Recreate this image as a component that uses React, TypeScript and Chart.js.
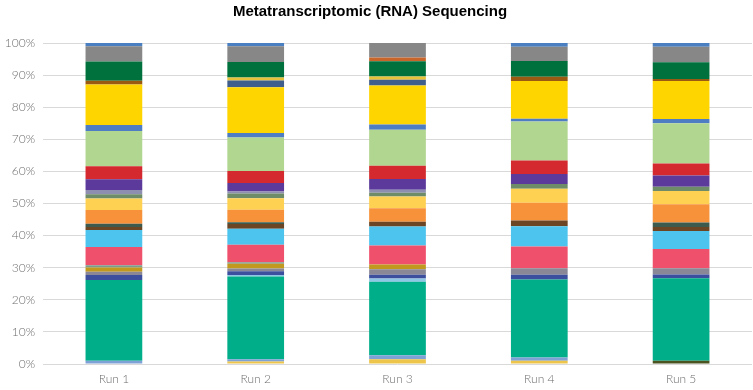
import React, { useEffect, useRef } from "react";
import { Chart, registerables } from "chart.js";

Chart.register(...registerables);

const TITLE = "Metatranscriptomic (RNA) Sequencing";
const categories = ["Run 1", "Run 2", "Run 3", "Run 4", "Run 5"];
const yTicks = [0, 10, 20, 30, 40, 50, 60, 70, 80, 90, 100];

// Segment values (%) per run, bottom to top of the stack
const darkOlive = [0, 0, 0, 0, 1.0];
const bottomYellow = [0, 0.8, 1.5, 1.0, 0];
const bottomBlue = [1.0, 0.7, 1.2, 1.0, 0];
const teal = [25, 25.7, 22.9, 24.2, 25.7];
const paleBlue = [0, 0.5, 1.0, 0, 0];
const darkBlue = [1.6, 1.2, 1.2, 1.5, 1.2];
const grayPurple = [1.0, 0.8, 1.7, 2.0, 1.9];
const goldenrod = [1.3, 1.5, 1.5, 0, 0];
const grayTeal = [0.7, 0.5, 0, 0, 0];
const pink = [5.7, 5.4, 5.9, 6.7, 6.0];
const lightBlue = [5.2, 5.0, 5.9, 6.3, 5.6];
const brown = [1.0, 1.5, 1.5, 1.8, 1.3];
const darkSlate = [1.0, 0.5, 0, 0, 1.4];
const orange = [4.2, 3.9, 4.2, 5.5, 5.7];
const lightYellow = [3.6, 3.6, 3.6, 4.3, 4.1];
const grayGreen = [1.3, 1.5, 1.2, 1.5, 1.3];
const lavender = [1.3, 0.6, 0.9, 0, 0];
const purple = [3.4, 2.6, 3.4, 3.1, 3.5];
const red = [4.0, 3.8, 4.1, 4.2, 3.8];
const lightGreen = [10.9, 10.4, 11.2, 12.1, 12.5];
const blue = [1.9, 1.4, 1.6, 0.8, 1.3];
const yellow = [12.5, 14.2, 12.2, 11.7, 11.9];
const steelBlue = [0, 2.1, 1.8, 0, 0];
const yellowThin = [0, 1.0, 1.0, 0, 0];
const brownOrange = [1.2, 0, 0, 1.3, 0.6];
const darkGreen = [6.0, 4.8, 4.7, 4.9, 5.2];
const orangeBrown = [0, 0, 1.2, 0, 0];
const gray = [4.7, 4.9, 4.5, 4.4, 4.8];
const blueTop = [1.0, 1.0, 0, 1.2, 1.2];

const series: [string, number[], string][] = [
  ["darkOlive", darkOlive, "#4B5320"],
  ["bottomYellow", bottomYellow, "#EDC54A"],
  ["bottomBlue", bottomBlue, "#7EA2D6"],
  ["teal", teal, "#00AE89"],
  ["paleBlue", paleBlue, "#8FC6E6"],
  ["darkBlue", darkBlue, "#3C4F9E"],
  ["grayPurple", grayPurple, "#8A8797"],
  ["goldenrod", goldenrod, "#C1991F"],
  ["grayTeal", grayTeal, "#7C9C8E"],
  ["pink", pink, "#EF506C"],
  ["lightBlue", lightBlue, "#4CC4EE"],
  ["brown", brown, "#6B4524"],
  ["darkSlate", darkSlate, "#3D5A4F"],
  ["orange", orange, "#F7923A"],
  ["lightYellow", lightYellow, "#FFD152"],
  ["grayGreen", grayGreen, "#6F8C68"],
  ["lavender", lavender, "#8E8FB0"],
  ["purple", purple, "#5C3A9B"],
  ["red", red, "#D42A2F"],
  ["lightGreen", lightGreen, "#B1D690"],
  ["blue", blue, "#4F7DC3"],
  ["yellow", yellow, "#FFD500"],
  ["steelBlue", steelBlue, "#3F5E8C"],
  ["yellowThin", yellowThin, "#E6C13A"],
  ["brownOrange", brownOrange, "#9A5A12"],
  ["darkGreen", darkGreen, "#00713C"],
  ["orangeBrown", orangeBrown, "#C8652A"],
  ["gray", gray, "#878787"],
  ["blueTop", blueTop, "#4A7FC1"],
];

const totals = categories.map((_, i) => series.reduce((s, [, v]) => s + v[i], 0));

const titlePlugin = {
  id: "customTitle",
  afterDraw(chart: any) {
    const ctx = chart.ctx;
    ctx.save();
    ctx.font = "bold 15px 'Liberation Sans', Arial, sans-serif";
    ctx.fillStyle = "#000000";
    ctx.textAlign = "center";
    ctx.textBaseline = "middle";
    ctx.fillText(TITLE, 370, 12);
    ctx.restore();
  },
};

const tickFont = { family: "Lato, 'Open Sans', sans-serif", size: 12, weight: "300" as any };

export default function App() {
  const ref = useRef<HTMLCanvasElement | null>(null);
  useEffect(() => {
    document.body.style.margin = "0";
    const chart = new Chart(ref.current!, {
      type: "bar",
      data: {
        labels: categories,
        datasets: series.map(([name, vals, color]) => ({
          label: name,
          data: vals.map((v, i) => (v / totals[i]) * 100),
          backgroundColor: color,
          borderWidth: 0,
          barPercentage: 0.4,
          categoryPercentage: 1,
        })),
      },
      options: {
        animation: false,
        responsive: false,
        maintainAspectRatio: false,
        layout: { padding: { top: 43, right: 1, left: 0, bottom: 0 } },
        plugins: { legend: { display: false }, tooltip: { enabled: false }, title: { display: false } },
        scales: {
          x: {
            stacked: true,
            grid: { display: false, drawTicks: false },
            border: { display: false },
            ticks: { padding: 8, color: "#6E6E6E", font: tickFont },
            afterFit(scale: any) { scale.height = 26; },
          },
          y: {
            stacked: true,
            min: 0,
            max: 100,
            afterBuildTicks(scale: any) { scale.ticks = yTicks.map((v) => ({ value: v })); },
            grid: { color: "#D9D9D9", lineWidth: 1, drawTicks: false },
            border: { display: false },
            ticks: {
              padding: 8,
              color: "#6E6E6E",
              font: tickFont,
              callback: (v: any) => v + "%",
            },
            afterFit(scale: any) { scale.width = 43; },
          },
        },
      },
      plugins: [titlePlugin],
    });
    return () => chart.destroy();
  }, []);
  return (
    <div style={{ position: "absolute", left: 0, top: 0, width: 753, height: 390, background: "#fff" }}>
      <canvas ref={ref} width={753} height={390} style={{ width: 753, height: 390 }} />
    </div>
  );
}
